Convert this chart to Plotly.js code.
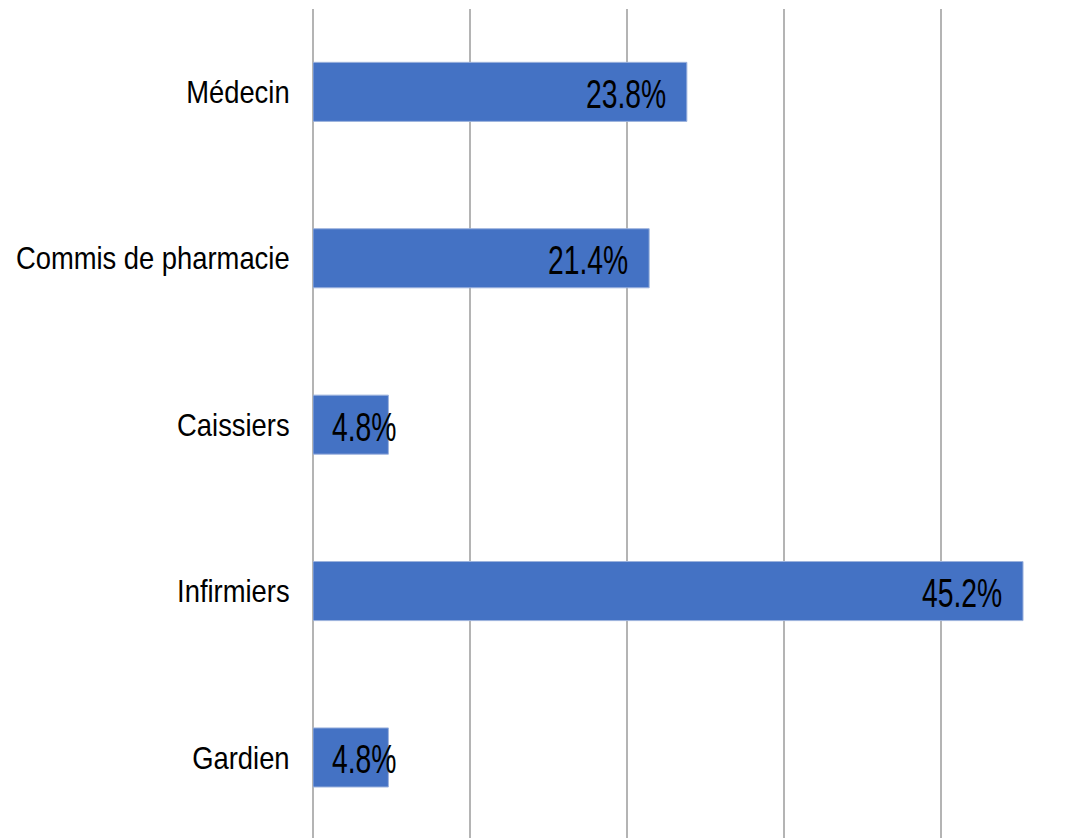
<!DOCTYPE html>
<html>
<head>
<meta charset="utf-8">
<script src="https://cdn.plot.ly/plotly-3.0.1.min.js"></script>
<style>html,body{margin:0;padding:0;background:#fff;}#chart{width:1089px;height:838px;}</style>
</head>
<body>
<div id="chart"></div>
<script>
const categories = ["Médecin", "Commis de pharmacie", "Caissiers", "Infirmiers", "Gardien"];
const values = [23.8, 21.4, 4.8, 45.2, 4.8];
const labels = ["23.8%", "21.4%", "4.8%", "45.2%", "4.8%"];

const FONT = '"Liberation Sans", Arial, sans-serif';
const CAT_SCALE = 0.855;   // horizontal squeeze of category labels
const LABEL_SCALE = 0.69;  // horizontal squeeze of value labels

const trace = {
  type: 'bar',
  orientation: 'h',
  y: categories,
  x: values,
  marker: {color: '#4472C4', line: {color: '#9DB3DD', width: 1}},
  hoverinfo: 'none'
};

const annotations = categories.map((c, i) => {
  const small = values[i] < 10;
  return {
    x: small ? 0 : values[i],
    y: c,
    xref: 'x', yref: 'y',
    text: labels[i],
    showarrow: false,
    xanchor: small ? 'left' : 'right',
    xshift: small ? 17 : -19,
    yshift: -2,
    font: {family: FONT, size: 41, color: '#000'}
  };
});

const layout = {
  width: 1089, height: 838,
  margin: {l: 313, r: 0, t: 9, b: 0, pad: 0},
  paper_bgcolor: '#fff', plot_bgcolor: '#fff',
  showlegend: false,
  bargap: 0.645,
  xaxis: {
    range: [0, 49.4], dtick: 10, tick0: 0,
    showgrid: true, gridcolor: '#b4b4b4', gridwidth: 2,
    zeroline: true, zerolinecolor: '#b4b4b4', zerolinewidth: 2,
    showticklabels: false, ticks: '', showline: false, fixedrange: true
  },
  yaxis: {
    type: 'category',
    categoryorder: 'array', categoryarray: categories,
    range: [4.484, -0.498],
    showgrid: false, zeroline: false, showline: false,
    ticks: 'outside', ticklen: 16, tickcolor: 'rgba(0,0,0,0)',
    tickfont: {family: FONT, size: 32, color: '#000'},
    fixedrange: true
  },
  annotations: annotations,
  font: {family: FONT}
};

function squeeze(t, scale, keepRight) {
  const bb = t.getBBox();
  t.setAttribute('textLength', (bb.width * scale).toFixed(2));
  t.setAttribute('lengthAdjust', 'spacingAndGlyphs');
  const nb = t.getBBox();
  const dx = keepRight ? (bb.x + bb.width) - (nb.x + nb.width) : bb.x - nb.x;
  const x0 = parseFloat(t.getAttribute('x') || '0');
  t.setAttribute('x', (x0 + dx).toFixed(2));
}

Plotly.newPlot('chart', [trace], layout, {displayModeBar: false, staticPlot: true}).then(gd => {
  gd.querySelectorAll('.ytick text').forEach(t => squeeze(t, CAT_SCALE, true));
  gd.querySelectorAll('.annotation').forEach(g => {
    const i = +g.getAttribute('data-index');
    const t = g.querySelector('text');
    if (t) squeeze(t, LABEL_SCALE, annotations[i].xanchor === 'right');
  });
});
</script>
</body>
</html>
